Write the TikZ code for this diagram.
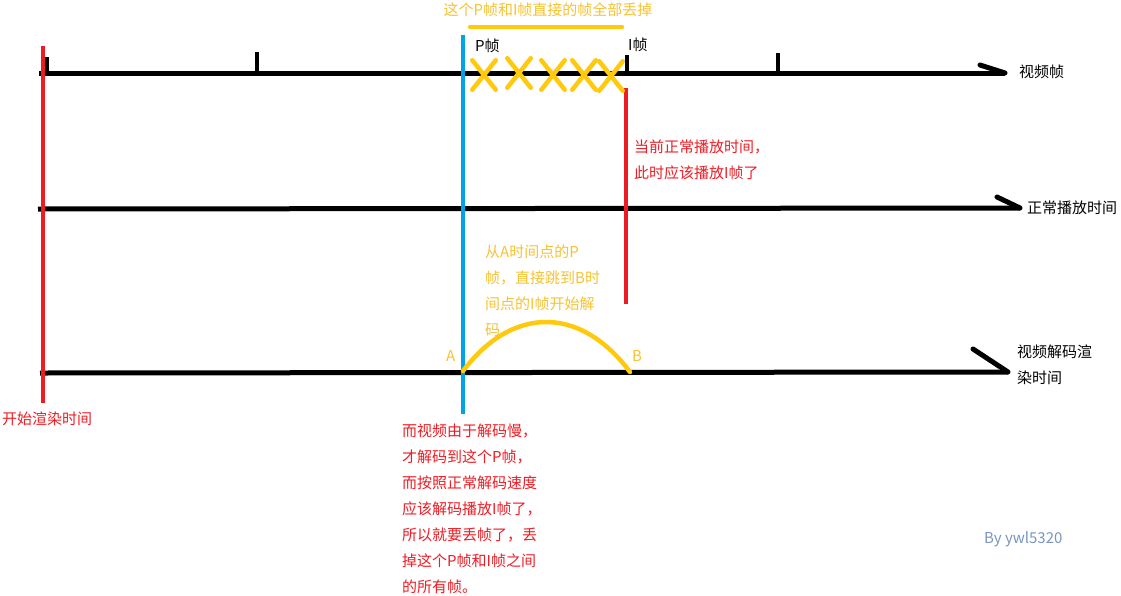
\documentclass[tikz,border=0pt]{standalone}
\usepackage{fontspec}
\setmainfont{Noto Sans CJK SC}
\usetikzlibrary{shapes.misc}
\definecolor{pred}{RGB}{237,28,36}
\definecolor{pblue}{RGB}{0,162,232}
\definecolor{pgold}{RGB}{255,201,14}
\definecolor{ytext}{RGB}{246,194,50}
\definecolor{sig}{RGB}{120,150,190}
\begin{document}
\begin{tikzpicture}[x=1pt,y=-1pt,
  axis/.style={line width=5pt,black},
  tick/.style={line width=4pt,black},
  redline/.style={line width=4pt,pred},
  blueline/.style={line width=4pt,pblue},
  goldline/.style={line width=4.5pt,pgold,line cap=round},
  xmark/.style={cross out,draw=pgold,line width=4.5pt,line cap=round,minimum width=19pt,minimum height=25pt,inner sep=0pt},
  lbl/.style={inner sep=0pt,font=\fontsize{15}{26}\selectfont},
  blk/.style={lbl,align=left,anchor=north west}]
\useasboundingbox (0,0) rectangle (1121,595);
% axes
\coordinate (t0) at (39,73); \coordinate (t1) at (1005,73); \coordinate (th) at (980,65);
\coordinate (m0) at (38,209); \coordinate (m1) at (1020,208); \coordinate (mh) at (997,197);
\coordinate (b0) at (40,373); \coordinate (b1) at (1008,372); \coordinate (bh) at (973,349);
\draw[axis] (t0) -- (t1); \draw[axis,line cap=round] (th) -- (t1);
\draw[axis] (m0) -- (m1); \draw[axis,line cap=round] (mh) -- (m1);
\draw[axis] (b0) -- (b1); \draw[axis,line cap=round] (bh) -- (b1);
% ticks
\coordinate (k1a) at (47,57); \coordinate (k1b) at (47,73);
\coordinate (k2a) at (257,52); \coordinate (k2b) at (257,73);
\coordinate (k3a) at (627,55); \coordinate (k3b) at (627,73);
\coordinate (k4a) at (778,53); \coordinate (k4b) at (778,73);
\draw[tick] (k1a) -- (k1b); \draw[tick] (k2a) -- (k2b);
\draw[tick] (k3a) -- (k3b); \draw[tick] (k4a) -- (k4b);
% vertical lines
\coordinate (r0a) at (43,46); \coordinate (r0b) at (43,403);
\coordinate (bla) at (463,35); \coordinate (blb) at (463,414);
\coordinate (r1a) at (626,88); \coordinate (r1b) at (626,304);
\draw[redline] (r0a) -- (r0b);
\draw[blueline] (bla) -- (blb);
\draw[redline] (r1a) -- (r1b);
% yellow marks
\coordinate (ya) at (470,27); \coordinate (yb) at (622,27);
\draw[goldline] (ya) -- (yb);
\node[xmark] (x1) at (484,75) {};
\node[xmark] (x2) at (519,73) {};
\node[xmark] (x3) at (553,75) {};
\node[xmark] (x4) at (584,75) {};
\node[xmark] (x5) at (611,76) {};
\coordinate (A) at (463,371); \coordinate (B) at (630,372);
\draw[goldline] (A) .. controls (512,306) and (580,305) .. (B);
% labels
\node[lbl,text=ytext] (top) at (548,10) {这个P帧和I帧直接的帧全部丢掉};
\node[lbl,anchor=west] (pf) at (475,46) {P帧};
\node[lbl,anchor=west] (if) at (628,45) {I帧};
\node[lbl,anchor=west] (l1) at (1019,72) {视频帧};
\node[lbl,anchor=west] (l2) at (1027,208) {正常播放时间};
\node[blk] (l3) at (1017,345) {视频解码渲\\染时间};
\node[lbl,anchor=west,text=pred] (start) at (2,419) {开始渲染时间};
\node[blk,text=pred] (cur) at (634,140) {当前正常播放时间，\\此时应该播放I帧了};
\node[blk,text=ytext] (jump) at (485,245) {从A时间点的P\\帧，直接跳到B时\\间点的I帧开始解\\码};
\node[lbl,anchor=west,text=ytext] (la) at (446,356) {A};
\node[lbl,anchor=west,text=ytext] (lb) at (632,356) {B};
\node[blk,text=pred] (expl) at (402,424) {而视频由于解码慢，\\才解码到这个P帧，\\而按照正常解码速度\\应该解码播放I帧了，\\所以就要丢帧了，丢\\掉这个P帧和I帧之间\\的所有帧。};
\node[lbl,anchor=west,text=sig] (sign) at (984,539) {By ywl5320};
\end{tikzpicture}
\end{document}
